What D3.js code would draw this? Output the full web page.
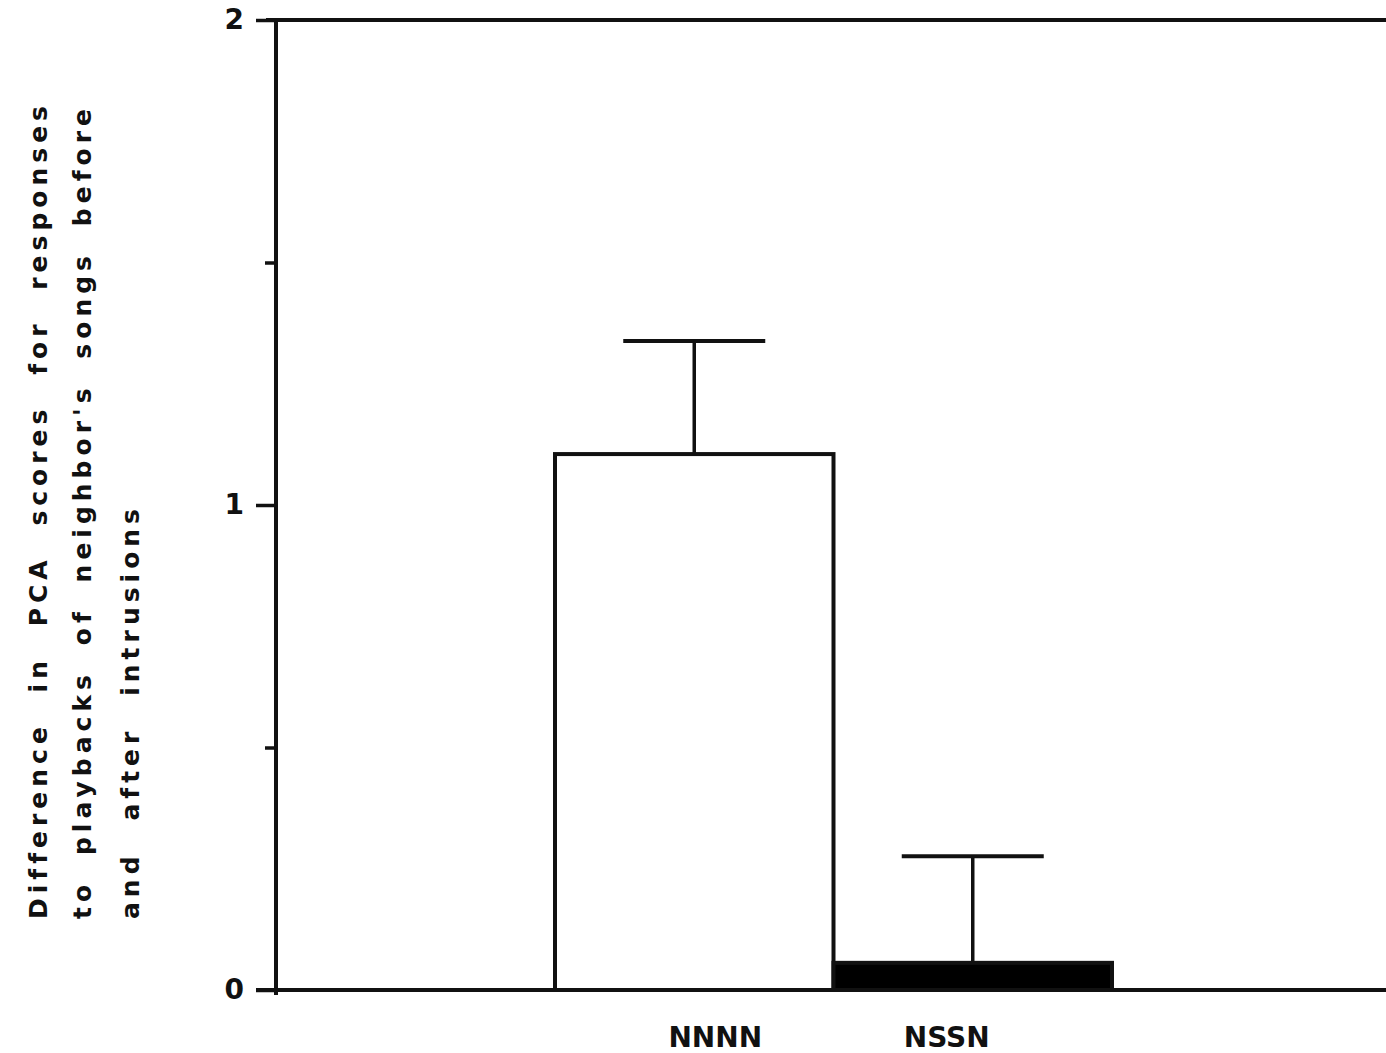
<!DOCTYPE html>
<html>
<head>
<meta charset="utf-8">
<script src="https://cdn.jsdelivr.net/npm/d3@7/dist/d3.min.js"></script>
<style>
  html, body { margin: 0; padding: 0; background: #fff; }
  svg { display: block; }
  text { font-family: "DejaVu Sans", sans-serif; font-weight: bold; fill: #111; }
</style>
</head>
<body>
<svg id="chart" width="1386" height="1053"></svg>
<script>
// ---- data ----
const categories = ["NNNN", "NSSN"];
const values = [1.105, 0.056];
const errors = [0.233, 0.220];            // upper error (SE) above bar top
const fills = ["#ffffff", "#000000"];
const yMajorTicks = [0, 1, 2];
const yMinorTicks = [0.5, 1.5];
const yLabelLines = [
  "Difference in PCA scores for responses",
  "to playbacks of neighbor's songs before",
  "and after intrusions"
];

// ---- layout ----
const W = 1386, H = 1053;
const axisX = 276, plotRight = 1386;
const svg = d3.select("#chart");

const y = d3.scaleLinear().domain([0, 2]).range([990, 20]);
const x = d3.scaleBand().domain(categories).range([555, 1112]).padding(0);

// top frame line
svg.append("line")
  .attr("x1", axisX - 10).attr("x2", plotRight)
  .attr("y1", y(2)).attr("y2", y(2))
  .attr("stroke", "#111").attr("stroke-width", 4);

// bars
const g = svg.append("g");
g.selectAll("rect.bar").data(categories).enter().append("rect")
  .attr("class", "bar")
  .attr("x", d => x(d))
  .attr("width", x.bandwidth())
  .attr("y", (d, i) => y(values[i]))
  .attr("height", (d, i) => y(0) - y(values[i]))
  .attr("fill", (d, i) => fills[i])
  .attr("stroke", "#111").attr("stroke-width", 4);

// error bars
const capHalf = 71;
categories.forEach((c, i) => {
  const cx = x(c) + x.bandwidth() / 2;
  g.append("line")
    .attr("x1", cx).attr("x2", cx)
    .attr("y1", y(values[i])).attr("y2", y(values[i] + errors[i]))
    .attr("stroke", "#111").attr("stroke-width", 3.5);
  g.append("line")
    .attr("x1", cx - capHalf).attr("x2", cx + capHalf)
    .attr("y1", y(values[i] + errors[i])).attr("y2", y(values[i] + errors[i]))
    .attr("stroke", "#111").attr("stroke-width", 4);
});

// x baseline
svg.append("line")
  .attr("x1", axisX - 20).attr("x2", plotRight)
  .attr("y1", y(0)).attr("y2", y(0))
  .attr("stroke", "#111").attr("stroke-width", 4);

// y axis (major)
const yAxis = d3.axisLeft(y).tickValues(yMajorTicks).tickFormat(d3.format("d"))
  .tickSize(20).tickPadding(12);
const ya = svg.append("g").attr("transform", `translate(${axisX},0)`).call(yAxis);
ya.select(".domain").remove();
ya.selectAll(".tick line").attr("stroke", "#111").attr("stroke-width", 3.5);
ya.selectAll(".tick text").style("font-size", "28px").attr("fill", "#111")
  .style("font-family", "'DejaVu Sans', sans-serif").style("font-weight", "bold");

// y axis (minor)
const yMinor = d3.axisLeft(y).tickValues(yMinorTicks).tickFormat("").tickSize(11);
const ym = svg.append("g").attr("transform", `translate(${axisX},0)`).call(yMinor);
ym.select(".domain").remove();
ym.selectAll(".tick line").attr("stroke", "#111").attr("stroke-width", 3.5);

// y axis line
svg.append("line")
  .attr("x1", axisX).attr("x2", axisX)
  .attr("y1", y(2) - 2).attr("y2", y(0) + 5)
  .attr("stroke", "#111").attr("stroke-width", 4);

// category labels (printed slightly offset from bar centers in the original)
const labelOffsets = [21, -26];
svg.selectAll("text.cat").data(categories).enter().append("text")
  .attr("class", "cat")
  .attr("x", (d, i) => x(d) + x.bandwidth() / 2 + labelOffsets[i])
  .attr("y", 1047)
  .attr("text-anchor", "middle")
  .style("font-size", "28px")
  .text(d => d);

// y axis title (three lines, rotated, justified by word spacing)
const lineBase = [47, 91, 139];
const lineLen = [818, 815, 415];
yLabelLines.forEach((t, i) => {
  const el = svg.append("text")
    .attr("transform", `translate(${lineBase[i]},919) rotate(-90)`)
    .attr("x", 0).attr("y", 0)
    .style("font-size", "25px")
    .style("letter-spacing", "5px")
    .text(t);
  const natural = el.node().getComputedTextLength();
  const gaps = t.split(" ").length - 1;
  if (gaps > 0) el.style("word-spacing", Math.max(0, (lineLen[i] - natural) / gaps) + "px");
});
</script>
</body>
</html>
